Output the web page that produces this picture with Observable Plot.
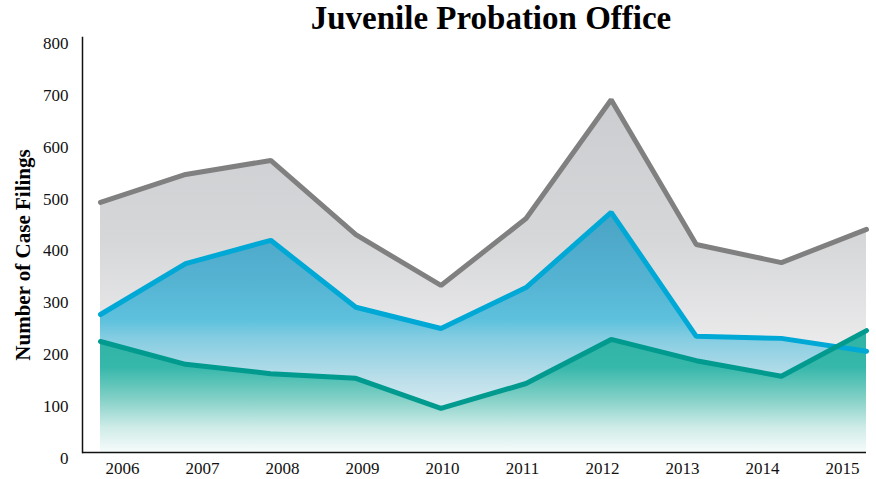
<!DOCTYPE html>
<html>
<head>
<meta charset="utf-8">
<script src="https://cdn.jsdelivr.net/npm/d3@7"></script>
<script src="https://cdn.jsdelivr.net/npm/@observablehq/plot@0.6"></script>
<style>
  html, body { margin: 0; padding: 0; background: #ffffff; }
  #chart { position: relative; width: 876px; height: 479px; overflow: hidden; }
  #title {
    position: absolute; top: 0px; left: 82px; width: 818px;
    text-align: center; font-family: "Liberation Serif", "Times New Roman", serif;
    font-weight: bold; font-size: 33px; line-height: 37px; color: #000;
  }
</style>
</head>
<body>
<div id="chart"><div id="title">Juvenile Probation Office</div></div>
<script>
// ---- data ----
const years = [2006, 2007, 2008, 2009, 2010, 2011, 2012, 2013, 2014, 2015];
const yearLabels = ["2006", "2007", "2008", "2009", "2010", "2011", "2012", "2013", "2014", "2015"];
const seriesGray = [482, 536, 563, 420, 322, 451, 680, 401, 366, 430];
const seriesBlue = [266, 364, 409, 280, 239, 318, 463, 224, 220, 195];
const seriesTeal = [214, 170, 152, 143, 85, 133, 218, 177, 147, 235];
const yTicks = [0, 100, 200, 300, 400, 500, 600, 700, 800];
const yLabel = "Number of Case Filings";

const rows = (vals) => years.map((year, i) => ({year, value: vals[i]}));
const grayRows = rows(seriesGray);
const blueRows = rows(seriesBlue);
const tealRows = rows(seriesTeal);

const font = '"Liberation Serif", "Times New Roman", serif';
const W = 876, H = 479;

const main = Plot.plot({
  width: W,
  height: H,
  marginTop: 37,
  marginBottom: 27,
  marginLeft: 82,
  marginRight: 10,
  style: {fontFamily: font, background: "transparent", color: "#111"},
  x: {type: "linear", domain: [2006, 2015], insetLeft: 18, axis: null},
  y: {domain: [0, 800], axis: null},
  marks: [
    Plot.areaY(grayRows, {x: "year", y: "value", fill: "url(#gradGray)"}),
    Plot.areaY(blueRows, {x: "year", y: "value", fill: "url(#gradBlue)"}),
    Plot.areaY(tealRows, {x: "year", y: "value", fill: "url(#gradTeal)"}),
    Plot.line(grayRows, {x: "year", y: "value", stroke: "#808080", strokeWidth: 5, strokeLinejoin: "miter", strokeLinecap: "round"}),
    Plot.line(blueRows, {x: "year", y: "value", stroke: "#00a8d6", strokeWidth: 5, strokeLinejoin: "miter", strokeLinecap: "round"}),
    Plot.line(tealRows, {x: "year", y: "value", stroke: "#009a8f", strokeWidth: 5, strokeLinejoin: "miter", strokeLinecap: "round"}),
    Plot.axisY({ticks: yTicks, tickSize: 0, tickPadding: 14, fontSize: 17, dy: 6, label: null, fill: "#111"}),
    Plot.frame({anchor: "left", stroke: "#111", strokeWidth: 1.5}),
    Plot.ruleY([0], {stroke: "#111", strokeWidth: 1.5}),
    Plot.text([yLabel], {frameAnchor: "left", rotate: -90, textAnchor: "middle", dx: -59, dy: 10, fontSize: 21, fontWeight: "bold", fill: "#000"})
  ]
});

// gradients for the area fills
const defs = d3.select(main).insert("defs", ":first-child");
function grad(id, stops) {
  const g = defs.append("linearGradient").attr("id", id).attr("x1", 0).attr("y1", 0).attr("x2", 0).attr("y2", 1);
  stops.forEach(([o, c]) => g.append("stop").attr("offset", o).attr("stop-color", c));
}
grad("gradGray", [[0, "#cccdd0"], [0.4, "#d6d7d9"], [0.7, "#ebebec"], [1, "#fbfbfb"]]);
grad("gradBlue", [[0, "#4aa3c4"], [0.3, "#56b4d3"], [0.45, "#5dc1dd"], [0.52, "#82cce1"], [0.7, "#bcdfea"], [0.85, "#dcedf2"], [1, "#f3f8f9"]]);
grad("gradTeal", [[0, "#30b2a5"], [0.3, "#35b7aa"], [0.55, "#7fcfc5"], [0.8, "#cfece8"], [1, "#f6fbfb"]]);

main.style.position = "absolute";
main.style.left = "0px";
main.style.top = "0px";

// x-axis labels (their spacing differs from the data points in the reference)
const xAxisPlot = Plot.plot({
  width: W,
  height: H,
  marginTop: 37,
  marginBottom: 27,
  marginLeft: 121,
  marginRight: 33,
  style: {fontFamily: font, background: "transparent", color: "#111"},
  x: {type: "point", domain: yearLabels, padding: 0},
  marks: [
    Plot.axisX({tickSize: 0, tickPadding: 9, fontSize: 17, label: null, fill: "#111"})
  ]
});
xAxisPlot.style.position = "absolute";
xAxisPlot.style.left = "0px";
xAxisPlot.style.top = "0px";
xAxisPlot.style.pointerEvents = "none";

const chart = document.getElementById("chart");
chart.insertBefore(main, chart.firstChild);
chart.appendChild(xAxisPlot);
</script>
</body>
</html>
